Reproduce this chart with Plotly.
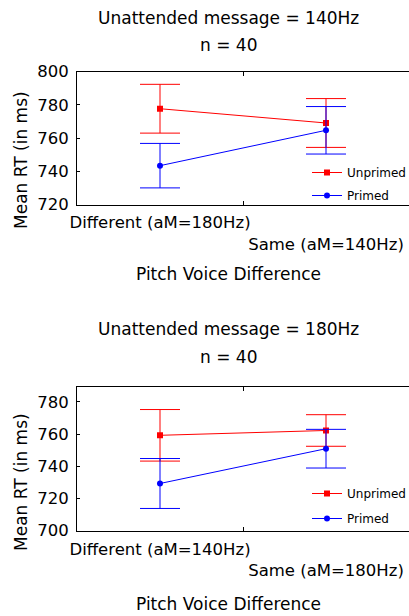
import plotly.graph_objects as go

# ---------------- data ----------------
top_categories = ["Different (aM=180Hz)", "Same (aM=140Hz)"]
bottom_categories = ["Different (aM=140Hz)", "Same (aM=180Hz)"]
x_positions = [0, 1]

top_unprimed = [777.7, 769.1]
top_unprimed_err = [14.7, 14.7]
top_primed = [743.4, 764.7]
top_primed_err = [13.4, 14.3]

bottom_unprimed = [759.2, 762.2]
bottom_unprimed_err = [16.0, 9.8]
bottom_primed = [729.3, 750.9]
bottom_primed_err = [15.5, 12.0]

top_yticks = [720, 740, 760, 780, 800]
bottom_yticks = [700, 720, 740, 760, 780]

titles = ["Unattended message = 140Hz", "Unattended message = 180Hz"]
n_label = "n = 40"
x_title = "Pitch Voice Difference"
y_title = "Mean RT (in ms)"

# ---------------- styling ----------------
W, H = 409, 616
ML = 77
FONT = "DejaVu Sans"
RED = "#ff0000"
BLUE = "#0000ff"


def py(px):
    return 1 - px / H


def pxx(px):
    return (px - ML) / (W - ML)


fig = go.Figure()


def add_series(y, err, color, symbol, name, xa, ya, legend, group):
    fig.add_trace(go.Scatter(
        x=x_positions, y=y, mode="lines+markers", name=name,
        xaxis=xa, yaxis=ya, legend=legend, legendgroup=group,
        line=dict(color=color, width=1),
        marker=dict(color=color, symbol=symbol, size=6),
        error_y=dict(type="data", array=err, visible=True,
                     color=color, thickness=1, width=20),
    ))


add_series(top_unprimed, top_unprimed_err, RED, "square", "Unprimed", "x", "y", "legend", "u1")
add_series(top_primed, top_primed_err, BLUE, "circle", "Primed", "x", "y", "legend", "p1")
add_series(bottom_unprimed, bottom_unprimed_err, RED, "square", "Unprimed", "x2", "y2", "legend2", "u2")
add_series(bottom_primed, bottom_primed_err, BLUE, "circle", "Primed", "x2", "y2", "legend2", "p2")

tickfont = dict(family=FONT, size=16.5, color="black")


def xaxis_cfg(cats, anchor):
    return dict(
        domain=[0, 1], anchor=anchor, range=[-0.5, 1.5],
        tickmode="array", tickvals=x_positions,
        ticktext=[cats[0], "<br>" + cats[1]],
        tickangle=0, automargin=False,
        ticks="inside", ticklen=0, tickfont=tickfont,
        showline=True, linecolor="black", linewidth=1, mirror="ticks",
        minor=dict(tickmode="array", tickvals=[0.5], ticks="inside",
                   ticklen=4, tickcolor="black", tickwidth=1),
        showgrid=False, zeroline=False, fixedrange=True,
        ticklabelstandoff=3,
    )


def yaxis_cfg(rng, ticks, dom, anchor):
    return dict(
        domain=dom, anchor=anchor, range=rng, automargin=False,
        tickmode="array", tickvals=ticks,
        ticks="inside", ticklen=3, tickcolor="black", tickfont=tickfont,
        showline=True, linecolor="black", linewidth=1, mirror=False,
        showgrid=False, zeroline=False, ticklabelstandoff=4, fixedrange=True,
    )


fig.update_layout(
    width=W, height=H,
    margin=dict(l=ML, r=0, t=0, b=0, pad=0, autoexpand=False),
    paper_bgcolor="white", plot_bgcolor="white",
    font=dict(family=FONT, color="black"),
    xaxis=xaxis_cfg(top_categories, "y"),
    yaxis=yaxis_cfg([720, 800], top_yticks, [py(204.5), py(71.7)], "x"),
    xaxis2=xaxis_cfg(bottom_categories, "y2"),
    yaxis2=yaxis_cfg([700, 789], bottom_yticks, [py(530.7), py(387.3)], "x2"),
    legend=dict(x=pxx(307), y=py(158), xanchor="left", yanchor="top",
                font=dict(family=FONT, size=12), bgcolor="rgba(0,0,0,0)",
                tracegroupgap=4, traceorder="grouped"),
    legend2=dict(x=pxx(307), y=py(479), xanchor="left", yanchor="top",
                 font=dict(family=FONT, size=12), bgcolor="rgba(0,0,0,0)",
                 tracegroupgap=6, traceorder="grouped"),
    showlegend=True,
)

ann_font = dict(family=FONT, size=17, color="black")
cx = pxx(228)
annots = [
    (titles[0], cx, 18, 0), (n_label, cx, 45, 0),
    (titles[1], cx, 329, 0), (n_label, cx, 357, 0),
    (x_title, cx, 274, 0), (x_title, cx, 604, 0),
    (y_title, pxx(21), 160, -90), (y_title, pxx(21), 482, -90),
]
for text, x, ypx, ang in annots:
    fig.add_annotation(text=text, x=x, y=py(ypx), xref="paper", yref="paper",
                       xanchor="center", yanchor="middle", showarrow=False,
                       textangle=ang, font=ann_font)

fig.write_html("out.html",
               config={"displayModeBar": False, "staticPlot": True},
               post_script="document.body.style.margin='0';"
                           "document.body.style.overflow='hidden';")
